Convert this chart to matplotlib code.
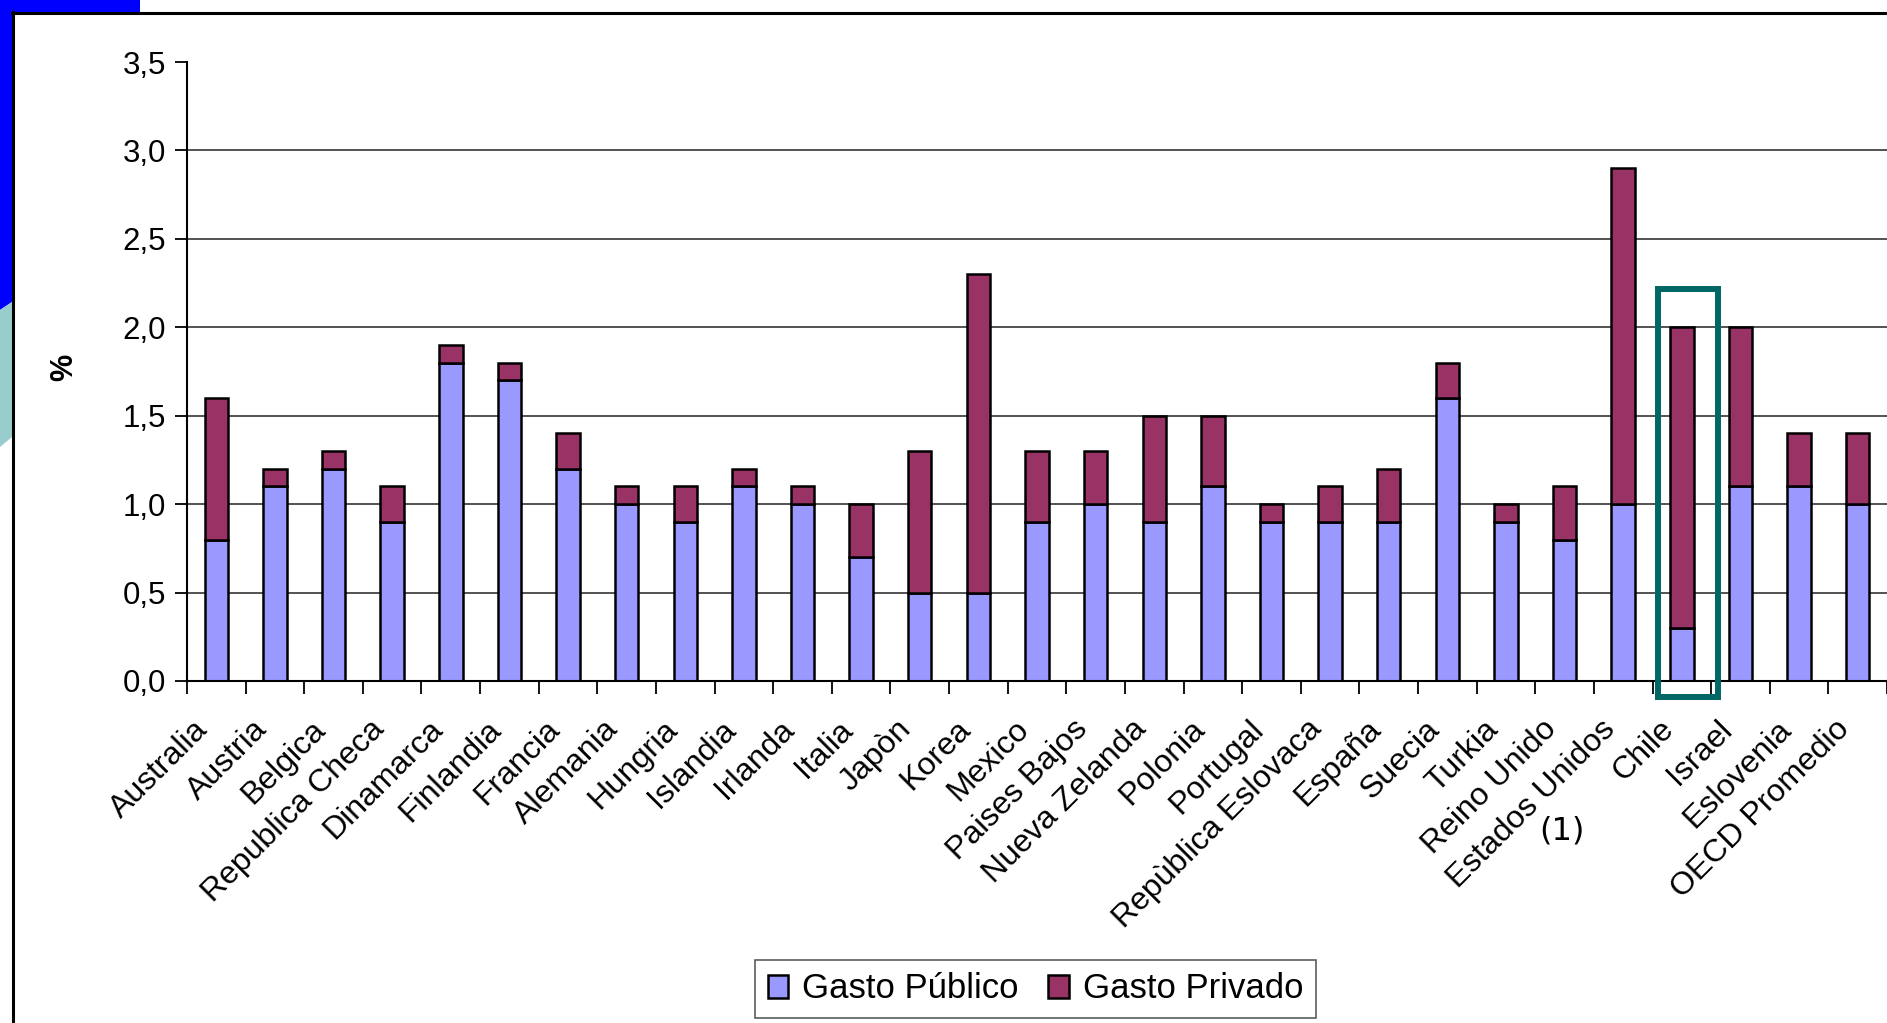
import matplotlib
matplotlib.use('Agg')
import matplotlib.pyplot as plt
from matplotlib.patches import Polygon, Rectangle
from matplotlib.lines import Line2D
from matplotlib.transforms import ScaledTranslation
import numpy as np

plt.rcParams['font.family'] = ['Liberation Sans', 'DejaVu Sans']

paises = ["Australia", "Austria", "Belgica", "Republica Checa", "Dinamarca",
          "Finlandia", "Francia", "Alemania", "Hungria", "Islandia", "Irlanda",
          "Italia", "Japòn", "Korea", "Mexico", "Paises Bajos", "Nueva Zelanda",
          "Polonia", "Portugal", "Repùblica Eslovaca", "España", "Suecia",
          "Turkia", "Reino Unido", "Estados Unidos", "Chile", "Israel",
          "Eslovenia", "OECD Promedio"]
gasto_publico = [0.8, 1.1, 1.2, 0.9, 1.8, 1.7, 1.2, 1.0, 0.9, 1.1, 1.0,
                 0.7, 0.5, 0.5, 0.9, 1.0, 0.9, 1.1, 0.9, 0.9, 0.9, 1.6,
                 0.9, 0.8, 1.0, 0.3, 1.1, 1.1, 1.0]
gasto_privado = [0.8, 0.1, 0.1, 0.2, 0.1, 0.1, 0.2, 0.1, 0.2, 0.1, 0.1,
                 0.3, 0.8, 1.8, 0.4, 0.3, 0.6, 0.4, 0.1, 0.2, 0.3, 0.2,
                 0.1, 0.3, 1.9, 1.7, 0.9, 0.3, 0.4]
y_ticks = [0.0, 0.5, 1.0, 1.5, 2.0, 2.5, 3.0, 3.5]
destacado = "Chile"

W, H = 1887, 1023


def fig_xy(xp, yp):
    # pixel coords (top-left origin) -> figure fraction
    return (xp / W, 1 - yp / H)


fig = plt.figure(figsize=(W / 100, H / 100), dpi=100)
ax = fig.add_axes([187 / W, 1 - 681 / H, 1 - 187 / W, (681 - 62) / H])

x = np.arange(len(paises))
ax.bar(x, gasto_publico, width=0.4, color='#9999FF', edgecolor='black',
       linewidth=1.8, label='Gasto Público', zorder=3)
ax.bar(x, gasto_privado, width=0.4, bottom=gasto_publico, color='#993366',
       edgecolor='black', linewidth=1.8, label='Gasto Privado', zorder=3)

ax.set_xlim(-0.5, len(paises) - 0.5)
ax.set_ylim(0, 3.5)
for v in y_ticks[1:-1]:
    ax.axhline(v, color='#444444', linewidth=1.3, zorder=1)

ax.set_yticks(y_ticks)
ax.set_yticklabels([f'{v:.1f}'.replace('.', ',') for v in y_ticks], fontsize=22.5)
ax.tick_params(axis='y', length=9, width=1.3, direction='out', pad=6)

ax.set_xticks(x)
ax.set_xticklabels(paises, rotation=45, ha='right', va='top', fontsize=23)
ax.set_xticks(np.arange(len(paises) + 1) - 0.5, minor=True)
ax.tick_params(axis='x', which='major', length=0, pad=24)
ax.tick_params(axis='x', which='minor', length=9, width=1.3, direction='out')
for lbl in ax.get_xticklabels():
    lbl.set_transform(lbl.get_transform() + ScaledTranslation(-2 / 100, 0, fig.dpi_scale_trans))

for s in ['top', 'right']:
    ax.spines[s].set_visible(False)
for s in ['left', 'bottom']:
    ax.spines[s].set_linewidth(1.5)
    ax.spines[s].set_zorder(4)

# footnote marker under "Estados Unidos"
ax.text(22.95, -0.243, "(1)", transform=ax.get_xaxis_transform(),
        ha='center', va='center', fontsize=23, family='DejaVu Sans')

# highlight box around Chile
i = paises.index(destacado)
ax.add_patch(Rectangle((i - 0.41, -0.09), 1.03, 2.306, fill=False,
                       edgecolor='#006666', linewidth=4.3, clip_on=False, zorder=6))

fig.text(64 / W, 1 - 367 / H, '%', rotation=90, ha='center', va='center',
         fontsize=22, fontweight='bold')

leg = ax.legend(loc='center', bbox_to_anchor=fig_xy(1035.5, 989),
                bbox_transform=fig.transFigure, ncol=2, fontsize=25,
                frameon=True, fancybox=False, shadow=False,
                handlelength=0.6, handleheight=0.65, handletextpad=0.4,
                columnspacing=0.85, borderpad=0.35, borderaxespad=0)
leg.get_frame().set_edgecolor('#333333')
leg.get_frame().set_linewidth(1.2)

# slide decoration: coloured strips and black frame
fig.add_artist(Polygon([fig_xy(0, 0), fig_xy(140, 0), fig_xy(140, 12), fig_xy(12, 12),
                        fig_xy(12, 302), fig_xy(0, 310)],
                       closed=True, facecolor='#0000FF', edgecolor='none',
                       transform=fig.transFigure))
fig.add_artist(Polygon([fig_xy(0, 310), fig_xy(12, 302), fig_xy(12, 437), fig_xy(0, 447)],
                       closed=True, facecolor='#99CCCC', edgecolor='none',
                       transform=fig.transFigure))
fig.add_artist(Line2D([12 / W, 1], [1 - 13 / H, 1 - 13 / H], color='black',
                      linewidth=2.2, transform=fig.transFigure))
fig.add_artist(Line2D([13 / W, 13 / W], [1 - 12 / H, 0], color='black',
                      linewidth=2.2, transform=fig.transFigure))

fig.savefig('out.png', dpi=100)
